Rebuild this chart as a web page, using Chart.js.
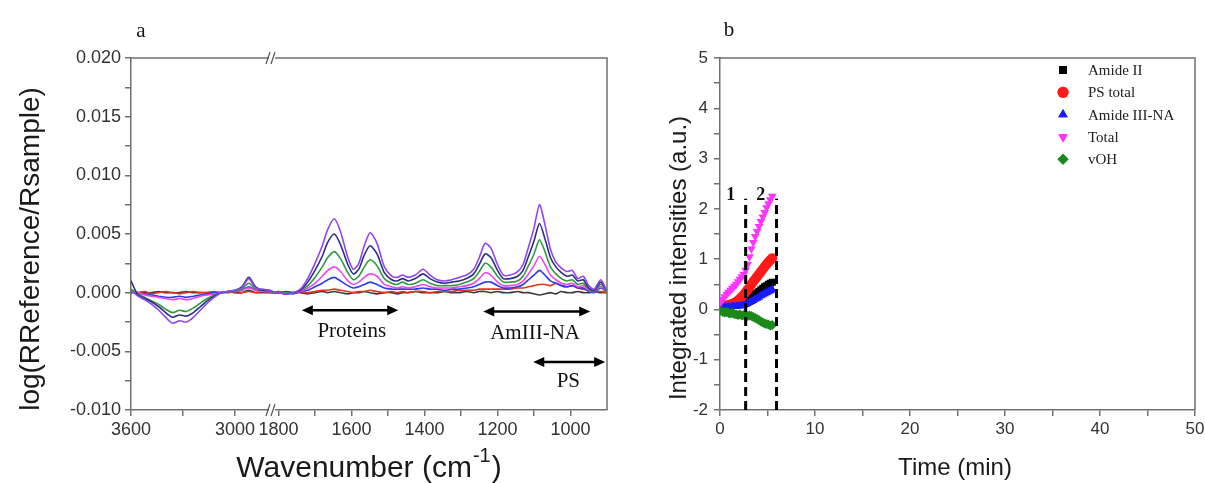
<!DOCTYPE html>
<html>
<head>
<meta charset="utf-8">
<script src="https://cdn.jsdelivr.net/npm/chart.js@4.4.1/dist/chart.umd.min.js"></script>
<style>
    html, body { margin: 0; padding: 0; background: #fff; }
    #wrap { position: relative; width: 1205px; height: 483px; overflow: hidden; }
    #chartA { position: absolute; left: 0; top: 0; }
    #chartB { position: absolute; left: 620px; top: 0; }
</style>
</head>
<body>
<div id="wrap">
    <canvas id="chartA" width="620" height="483"></canvas>
    <canvas id="chartB" width="585" height="483"></canvas>
</div>
<script>
// ---- Panel a: spectra (values in units of 1e-4) ----
const WN_LEFT = [3600, 3560, 3520, 3480, 3440, 3400, 3360, 3320, 3280, 3240, 3200,
    3160, 3120, 3080, 3040, 3000, 2960, 2920, 2880, 2840, 2800, 2780];
const WN_RIGHT = [1820, 1800, 1780, 1760, 1740, 1720, 1700, 1680, 1665, 1647,
    1630, 1610, 1595, 1580, 1565, 1549, 1530, 1510, 1490, 1475,
    1460, 1445, 1425, 1404, 1385, 1365, 1345, 1325, 1305, 1285,
    1265, 1250, 1234, 1218, 1200, 1184, 1165, 1145, 1130, 1115,
    1100, 1085, 1070, 1055, 1040, 1025, 1010, 995, 980, 965,
    950, 935, 917, 900];

const BLACK_L = [0, 0, 0, 0, 1, 0, 0, 0, 1, 0, 0, 0, 0, 0, 1, 0, 0, 2, 0, 0, 0, 0];
const RED_L = [1, 0, 1, -1, 0, 1, 0, -1, 0, 1, 0, 0, 1, 0, 0, 1, 0, 1, 0, 1, 0, 0];
const BLUE_L = [2, -1, -1, -2, -3, -4, -4, -3, -4, -3, -2, -1, 0, 0, 1, 1, 2, 5, 2, 1, 1, 0];
const MAGENTA_L = [1, 0, -2, -3, -4, -5, -6, -5, -6, -5, -3, -2, -1, 0, 1, 1, 2, 4, 2, 1, 1, 0];
const GREEN_L = [3, -1, -4, -7, -10, -14, -17, -15, -16, -13, -9, -5, -2, 0, 1, 1, 3, 8, 3, 2, 1, 0];
const NAVY_L = [10, -2, -5, -8, -12, -17, -21, -19, -20, -17, -12, -7, -3, 0, 1, 2, 5, 13, 5, 2, 2, 1];
const VIOLET_L = [2, -3, -6, -10, -15, -21, -26, -24, -25, -21, -15, -9, -4, 0, 1, 2, 4, 12, 4, 3, 2, 1];

const BLACK_R = [0, 0, 1, 0, 0, -1, 0, 1, 0, 1, 0, -1, 0, 0, 1, 0, -1, 0, 0, -1,
    0, 0, 1, 0, 0, 0, 1, 0, 0, 1, 0, 1, 1, 0, 1, 0, 0, 1, 0, 0,
    -1, -2, -1, 0, -1, 1, 0, 0, 1, 0, 0, 1, 0, 0];
const RED_R = [0, 1, -1, 0, 1, 0, 1, 2, 2, 3, 2, 1, 0, 1, 1, 2, 1, 0, 1, 0,
    1, 0, 1, 1, 0, 1, 1, 1, 2, 2, 2, 3, 3, 3, 3, 3, 3, 4, 4, 5,
    6, 7, 7, 6, 8, 6, 5, 6, 4, 3, 2, 1, 1, 0];
const BLUE_R = [0, 0, 0, -1, 1, 2, 5, 8, 11, 13, 10, 6, 4, 5, 7, 9, 7, 4, 3, 3,
    3, 3, 3, 4, 3, 3, 2, 3, 3, 4, 5, 7, 9, 9, 6, 4, 4, 5, 7, 11,
    15, 19, 15, 10, 8, 6, 5, 6, 4, 4, 1, 0, 4, 0];
const MAGENTA_R = [0, 0, -1, 0, 1, 4, 8, 14, 19, 22, 18, 10, 7, 9, 13, 16, 14, 7, 5, 4,
    5, 4, 5, 7, 5, 4, 4, 4, 5, 6, 8, 12, 17, 15, 9, 6, 6, 7, 10, 16,
    23, 31, 24, 15, 11, 8, 7, 8, 5, 6, 2, 1, 5, 0];
const GREEN_R = [0, 1, 0, 0, 2, 6, 13, 22, 30, 35, 29, 17, 11, 14, 22, 28, 23, 12, 8, 7,
    9, 7, 8, 11, 8, 6, 6, 6, 7, 9, 12, 18, 25, 22, 14, 9, 9, 10, 14, 23,
    33, 45, 35, 22, 16, 12, 10, 11, 7, 8, 3, 1, 7, 0];
const NAVY_R = [0, 0, -1, 0, 2, 9, 19, 31, 43, 50, 41, 24, 16, 20, 32, 40, 33, 17, 11, 10,
    12, 10, 12, 16, 12, 9, 8, 9, 10, 12, 16, 24, 33, 30, 19, 12, 12, 14, 19, 31,
    44, 59, 46, 30, 22, 17, 14, 15, 10, 11, 4, 2, 9, 1];
const VIOLET_R = [0, 0, -1, 0, 3, 12, 25, 40, 54, 63, 52, 30, 20, 25, 40, 51, 42, 22, 14, 13,
    15, 13, 15, 20, 15, 11, 10, 11, 13, 15, 20, 30, 42, 38, 24, 15, 15, 18, 24, 39,
    55, 75, 58, 37, 26, 21, 18, 19, 12, 14, 6, 3, 11, 1];

const Y_TICKS_A = [-0.01, 0.02, 0.0025];   // min, max, step

// ---- Panel b: integrated intensities ----
const TIME = [0.1, 0.3, 0.5, 0.7, 0.9, 1.1, 1.3, 1.5, 1.7, 1.9, 2.1, 2.3, 2.5, 2.7,
    2.9, 3.1, 3.3, 3.5, 3.7, 3.9, 4.1, 4.3, 4.5, 4.7, 4.9, 5.1, 5.3, 5.5];
const AMIDE_II = [0.05, 0.05, 0.06, 0.06, 0.07, 0.07, 0.08, 0.08, 0.09, 0.10, 0.11, 0.12, 0.14, 0.16,
    0.18, 0.21, 0.24, 0.27, 0.30, 0.33, 0.36, 0.39, 0.42, 0.45, 0.47, 0.50, 0.52, 0.54];
const PS_TOTAL = [0.05, 0.06, 0.07, 0.08, 0.09, 0.10, 0.11, 0.13, 0.15, 0.18, 0.21, 0.25, 0.29, 0.34,
    0.39, 0.44, 0.50, 0.55, 0.60, 0.65, 0.70, 0.75, 0.80, 0.85, 0.90, 0.94, 0.98, 1.02];
const AMIDE_III_NA = [0.05, 0.05, 0.05, 0.05, 0.05, 0.05, 0.06, 0.06, 0.06, 0.07, 0.07, 0.08, 0.09, 0.10,
    0.12, 0.14, 0.16, 0.18, 0.20, 0.22, 0.24, 0.27, 0.29, 0.31, 0.33, 0.35, 0.37, 0.39];
const TOTAL = [0.15, 0.20, 0.25, 0.30, 0.34, 0.38, 0.42, 0.46, 0.50, 0.55, 0.60, 0.65, 0.70, 0.78,
    0.90, 1.05, 1.20, 1.33, 1.45, 1.55, 1.65, 1.75, 1.84, 1.93, 2.02, 2.10, 2.18, 2.25];
const VOH = [-0.03, -0.05, -0.06, -0.05, -0.07, -0.08, -0.07, -0.09, -0.10, -0.11, -0.10, -0.12, -0.11, -0.12,
    -0.13, -0.12, -0.13, -0.15, -0.17, -0.19, -0.21, -0.24, -0.26, -0.28, -0.29, -0.30, -0.32, -0.31];
const SERIES_NAMES = ['Amide II', 'PS total', 'Amide III-NA', 'Total', 'vOH'];
const STEP_TIMES = [2.7, 5.95];
const STEP_TOP = 2.2;

const AXIS = '#707070';
const TICK_TXT = '#333';
const SANS = '"Liberation Sans", Arial, sans-serif';
const SERIF = '"Liberation Serif", "Times New Roman", serif';
Chart.defaults.font.family = SANS;
Chart.defaults.animation = false;

function pts(xs, ys, k) {
    return xs.map((x, i) => ({ x: x, y: ys[i] * k }));
}

function arrow(ctx, x1, x2, y) {
    const h = 11, w = 5;
    ctx.lineWidth = 2.5;
    ctx.beginPath();
    ctx.moveTo(x1 + h - 2, y);
    ctx.lineTo(x2 - h + 2, y);
    ctx.stroke();
    ctx.beginPath();
    ctx.moveTo(x1, y); ctx.lineTo(x1 + h, y - w); ctx.lineTo(x1 + h, y + w); ctx.closePath();
    ctx.moveTo(x2, y); ctx.lineTo(x2 - h, y - w); ctx.lineTo(x2 - h, y + w); ctx.closePath();
    ctx.fill();
}

// ---------------- Panel a ----------------
const spectra = [
    { color: '#3c3c3c', left: BLACK_L, right: BLACK_R },
    { color: '#e8341c', left: RED_L, right: RED_R },
    { color: '#2b3ee6', left: BLUE_L, right: BLUE_R },
    { color: '#f044ee', left: MAGENTA_L, right: MAGENTA_R },
    { color: '#2f9a3c', left: GREEN_L, right: GREEN_R },
    { color: '#2d2f86', left: NAVY_L, right: NAVY_R },
    { color: '#9244f2', left: VIOLET_L, right: VIOLET_R }
];

const specSets = [];
spectra.forEach(function(s, i) {
    const common = {
        type: 'line', borderColor: s.color, borderWidth: 1.6, pointRadius: 0,
        tension: 0.25, fill: false, yAxisID: 'y', order: 20 - i
    };
    specSets.push(Object.assign({ data: pts(WN_LEFT, s.left, 1e-4), xAxisID: 'xl' }, common));
    specSets.push(Object.assign({ data: pts(WN_RIGHT, s.right, 1e-4), xAxisID: 'xr' }, common));
});

const axisCommon = {
    border: { color: AXIS, width: 1.5 },
    grid: { drawOnChartArea: false, color: AXIS, lineWidth: 1.5, tickLength: 6 }
};

const panelAExtras = {
    id: 'panelAExtras',
    afterDraw(chart) {
        const { ctx, chartArea: a, scales } = chart;
        const xr = scales.xr, y = scales.y;
        ctx.save();
        // frame top/right
        ctx.strokeStyle = AXIS;
        ctx.lineWidth = 1.5;
        ctx.beginPath();
        ctx.moveTo(a.left, a.top); ctx.lineTo(a.right, a.top); ctx.lineTo(a.right, a.bottom);
        ctx.stroke();
        // axis break marks
        const bx = xr.left;
        [a.top, a.bottom].forEach(function(yy) {
            ctx.fillStyle = '#fff';
            ctx.fillRect(bx - 4, yy - 2, 6, 4);
            ctx.strokeStyle = '#555';
            ctx.lineWidth = 1.2;
            ctx.beginPath();
            ctx.moveTo(bx - 7, yy + 6); ctx.lineTo(bx - 3, yy - 6);
            ctx.moveTo(bx - 2, yy + 6); ctx.lineTo(bx + 2, yy - 6);
            ctx.stroke();
        });
        // range arrows
        ctx.fillStyle = '#000';
        ctx.strokeStyle = '#000';
        arrow(ctx, xr.getPixelForValue(1736), xr.getPixelForValue(1472), y.getPixelForValue(-0.0015));
        arrow(ctx, xr.getPixelForValue(1239), xr.getPixelForValue(946), y.getPixelForValue(-0.0016));
        arrow(ctx, xr.getPixelForValue(1102), xr.getPixelForValue(905), y.getPixelForValue(-0.0059));
        ctx.font = '21px ' + SERIF;
        ctx.textAlign = 'center';
        ctx.textBaseline = 'middle';
        ctx.fillStyle = '#111';
        ctx.fillText('Proteins', xr.getPixelForValue(1599), y.getPixelForValue(-0.0033));
        ctx.fillText('AmIII-NA', xr.getPixelForValue(1097), y.getPixelForValue(-0.0035));
        ctx.fillText('PS', xr.getPixelForValue(1006), y.getPixelForValue(-0.0076));
        // panel letter
        ctx.font = '21px ' + SERIF;
        ctx.fillText('a', 141, 31);
        // axis titles
        ctx.fillStyle = '#1a1a1a';
        ctx.font = '30px ' + SANS;
        const t1 = 'Wavenumber (cm', sup = '-1', t2 = ')';
        const supFont = '20px ' + SANS;
        const w1 = ctx.measureText(t1).width, w3 = ctx.measureText(t2).width;
        ctx.font = supFont;
        const w2 = ctx.measureText(sup).width;
        let x0 = 368 - (w1 + w2 + w3) / 2;
        ctx.textAlign = 'left';
        ctx.textBaseline = 'alphabetic';
        ctx.font = '30px ' + SANS;
        ctx.fillText(t1, x0, 477);
        ctx.font = supFont;
        ctx.fillText(sup, x0 + w1 + 1, 462);
        ctx.font = '30px ' + SANS;
        ctx.fillText(t2, x0 + w1 + w2 + 2, 477);
        ctx.translate(31, 249);
        ctx.rotate(-Math.PI / 2);
        ctx.font = '28px ' + SANS;
        ctx.textAlign = 'center';
        ctx.textBaseline = 'middle';
        ctx.fillText('log(RReference/Rsample)', 0, 0);
        ctx.restore();
    }
};

new Chart(document.getElementById('chartA'), {
    type: 'line',
    data: { datasets: specSets },
    options: {
        responsive: false,
        layout: { padding: { left: 0, top: 58, right: 13, bottom: 0 } },
        plugins: { legend: { display: false }, tooltip: { enabled: false } },
        scales: {
            xl: Object.assign({}, axisCommon, {
                type: 'linear', position: 'bottom', stack: 'wn', stackWeight: 142,
                reverse: true, min: 2780, max: 3600,
                afterBuildTicks(s) { s.ticks = [3600, 3300, 3000].map(v => ({ value: v })); },
                afterFit(s) { s.height = 73; s.paddingLeft = 0; s.paddingRight = 0; },
                ticks: {
                    autoSkip: false, maxRotation: 0, padding: 3, color: TICK_TXT,
                    font: { size: 18 },
                    callback: v => (v % 600 === 0 ? String(v) : '')
                }
            }),
            xr: Object.assign({}, axisCommon, {
                type: 'linear', position: 'bottom', stack: 'wn', stackWeight: 334,
                reverse: true, min: 900, max: 1815,
                afterBuildTicks(s) {
                    const t = [];
                    for (let v = 1800; v >= 1000; v -= 100) t.push({ value: v });
                    s.ticks = t;
                },
                afterFit(s) { s.height = 73; s.paddingLeft = 0; s.paddingRight = 0; },
                ticks: {
                    autoSkip: false, maxRotation: 0, padding: 3, color: TICK_TXT,
                    font: { size: 18 },
                    callback: v => (v % 200 === 0 ? String(v) : '')
                }
            }),
            y: Object.assign({}, axisCommon, {
                type: 'linear', position: 'left',
                min: Y_TICKS_A[0], max: Y_TICKS_A[1],
                afterFit(s) { s.width = 131; s.paddingTop = 0; s.paddingBottom = 0; },
                ticks: {
                    stepSize: Y_TICKS_A[2], autoSkip: false, padding: 4, color: TICK_TXT,
                    font: { size: 18 },
                    callback: function(v) {
                        const k = Math.round(v / Y_TICKS_A[2]);
                        return k % 2 === 0 ? (k * Y_TICKS_A[2]).toFixed(3) : '';
                    }
                }
            })
        }
    },
    plugins: [panelAExtras]
});

// ---------------- Panel b ----------------
const markerSeries = [
    { data: AMIDE_II, color: '#000000', style: 'rect', rot: 0 },
    { data: PS_TOTAL, color: '#ff1a1a', style: 'circle', rot: 0 },
    { data: AMIDE_III_NA, color: '#1a1aff', style: 'triangle', rot: 0 },
    { data: TOTAL, color: '#ff33ff', style: 'triangle', rot: 180 },
    { data: VOH, color: '#1b8a1b', style: 'rectRot', rot: 0 }
];

const timeSets = markerSeries.map(function(s, i) {
    return {
        type: 'scatter', label: SERIES_NAMES[i], data: pts(TIME, s.data, 1),
        backgroundColor: s.color, borderColor: s.color, borderWidth: 0,
        pointStyle: s.style, rotation: s.rot, pointRadius: 5, order: 10 - i
    };
});
STEP_TIMES.forEach(function(t) {
    timeSets.push({
        type: 'line', label: '', data: [{ x: t, y: -2 }, { x: t, y: STEP_TOP }],
        borderColor: '#000', borderWidth: 3, borderDash: [9, 5], pointRadius: 0,
        showLine: true, order: 0
    });
});

const panelBExtras = {
    id: 'panelBExtras',
    afterDraw(chart) {
        const { ctx, chartArea: a, scales } = chart;
        const x = scales.x, y = scales.y;
        ctx.save();
        ctx.strokeStyle = AXIS;
        ctx.lineWidth = 1.5;
        ctx.beginPath();
        ctx.moveTo(a.left, a.top); ctx.lineTo(a.right, a.top); ctx.lineTo(a.right, a.bottom);
        ctx.stroke();
        // legend
        ctx.font = '15px ' + SERIF;
        ctx.textAlign = 'left';
        ctx.textBaseline = 'middle';
        markerSeries.forEach(function(s, i) {
            const ly = 70 + i * 22.3;
            ctx.fillStyle = s.color;
            Chart.helpers.drawPoint(ctx, { pointStyle: s.style, rotation: s.rot, radius: 5.5, borderWidth: 0 }, 443, ly);
            ctx.fill();
            ctx.fillStyle = '#222';
            ctx.fillText(SERIES_NAMES[i], 468, ly + 1);
        });
        // region numbers
        ctx.fillStyle = '#111';
        ctx.font = 'bold 18px ' + SERIF;
        ctx.textAlign = 'center';
        ctx.fillText('1', x.getPixelForValue(1.13), y.getPixelForValue(2.26));
        ctx.fillText('2', x.getPixelForValue(4.3), y.getPixelForValue(2.26));
        // panel letter
        ctx.font = '21px ' + SERIF;
        ctx.fillText('b', 109, 30);
        // titles
        ctx.fillStyle = '#1a1a1a';
        ctx.font = '24px ' + SANS;
        ctx.textBaseline = 'alphabetic';
        ctx.fillText('Time (min)', 335, 475);
        ctx.translate(59, 258);
        ctx.rotate(-Math.PI / 2);
        ctx.textBaseline = 'middle';
        ctx.fillText('Integrated intensities (a.u.)', 0, 0);
        ctx.restore();
    }
};

new Chart(document.getElementById('chartB'), {
    type: 'scatter',
    data: { datasets: timeSets },
    options: {
        responsive: false,
        layout: { padding: { left: 0, top: 58, right: 10, bottom: 0 } },
        plugins: { legend: { display: false }, tooltip: { enabled: false } },
        scales: {
            x: Object.assign({}, axisCommon, {
                type: 'linear', position: 'bottom', min: 0, max: 50,
                afterFit(s) { s.height = 73; s.paddingLeft = 0; s.paddingRight = 0; },
                ticks: {
                    stepSize: 5, autoSkip: false, maxRotation: 0, padding: 3, color: TICK_TXT,
                    font: { size: 17 },
                    callback: v => (v % 10 === 0 ? String(v) : '')
                }
            }),
            y: Object.assign({}, axisCommon, {
                type: 'linear', position: 'left', min: -2, max: 5,
                afterFit(s) { s.width = 100; s.paddingTop = 0; s.paddingBottom = 0; },
                ticks: {
                    stepSize: 0.5, autoSkip: false, padding: 6, color: TICK_TXT,
                    font: { size: 17 },
                    callback: v => (Number.isInteger(v) ? String(v) : '')
                }
            })
        }
    },
    plugins: [panelBExtras]
});
</script>
</body>
</html>
